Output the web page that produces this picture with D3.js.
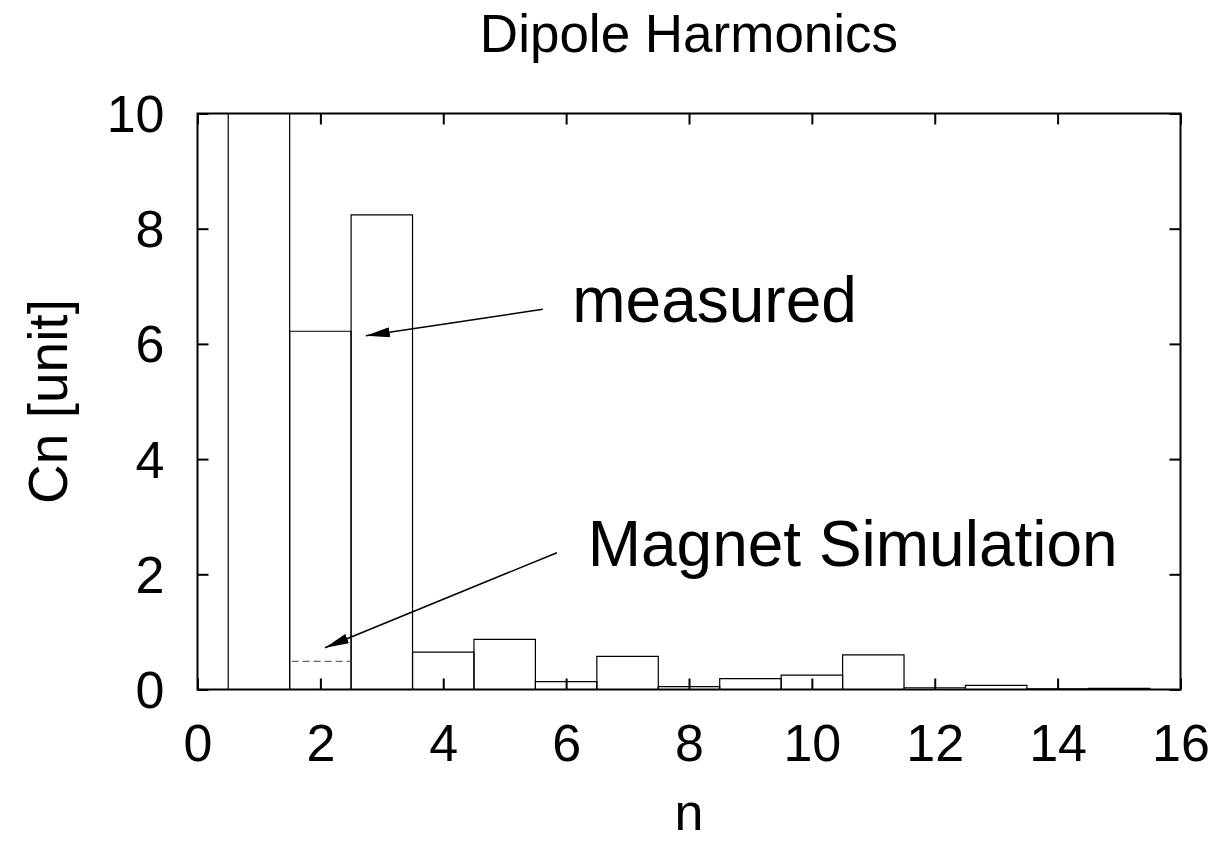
<!DOCTYPE html>
<html>
<head>
<meta charset="utf-8">
<script src="https://cdn.jsdelivr.net/npm/d3@7"></script>
<style>
  html, body { margin: 0; padding: 0; background: #fff; }
  svg { display: block; font-family: "Liberation Sans", Arial, sans-serif; }
</style>
</head>
<body>
<svg id="chart" width="1217" height="843"></svg>
<script>
// ---- data ----
const harmonics = [1, 2, 3, 4, 5, 6, 7, 8, 9, 10, 11, 12, 13, 14, 15];
const measured = [100, 6.22, 8.24, 0.65, 0.87, 0.135, 0.575, 0.05, 0.19, 0.25, 0.60, 0.03, 0.07, 0.01, 0.02];
const simHarmonics = [2];
const simulated = [0.49];
const xTicks = [0, 2, 4, 6, 8, 10, 12, 14, 16];
const yTicks = [0, 2, 4, 6, 8, 10];
const titleText = "Dipole Harmonics";
const xLabel = "n";
const yLabel = "Cn [unit]";
// annotations (data units): label position, arrow start, arrow tip
const annotationTexts = ["measured", "Magnet Simulation"];
const annotationTextPos = [[6.1, 6.38], [6.35, 2.14]];
const annotationArrowFrom = [[5.62, 6.6], [5.85, 2.375]];
const annotationArrowTo = [[2.74, 6.14], [2.075, 0.726]];

// ---- layout ----
const svg = d3.select("#chart");
const L = 197.5, R = 1180.5, T = 113.5, B = 689.5;
const x = d3.scaleLinear().domain([0, 16]).range([L, R]);
const y = d3.scaleLinear().domain([0, 10]).range([B, T]);

const defs = svg.append("defs");
defs.append("clipPath").attr("id", "clip")
  .append("rect").attr("x", L).attr("y", T).attr("width", R - L).attr("height", B - T);
defs.append("marker")
  .attr("id", "arrow").attr("viewBox", "0 0 24 10")
  .attr("refX", 24).attr("refY", 5)
  .attr("markerWidth", 24).attr("markerHeight", 10)
  .attr("markerUnits", "userSpaceOnUse")
  .attr("orient", "auto")
  .append("path").attr("d", "M0,0 L24,5 L0,10 Z").attr("fill", "#000");

// bars (measured)
const gBars = svg.append("g").attr("clip-path", "url(#clip)");
gBars.selectAll("path.bar").data(harmonics).enter().append("path")
  .attr("class", "bar")
  .attr("d", (n, i) => {
    const x0 = x(n - 0.5), x1 = x(n + 0.5), y0 = y(0), y1 = y(measured[i]);
    return `M${x0},${y0} L${x0},${y1} L${x1},${y1} L${x1},${y0}`;
  })
  .attr("fill", "none").attr("stroke", "#000").attr("stroke-width", 1.2);

// simulation (dashed)
gBars.selectAll("line.sim").data(simHarmonics).enter().append("line")
  .attr("class", "sim")
  .attr("x1", n => x(n - 0.5) + 2).attr("x2", n => x(n + 0.5))
  .attr("y1", (n, i) => y(simulated[i])).attr("y2", (n, i) => y(simulated[i]))
  .attr("stroke", "#666").attr("stroke-width", 1.3).attr("stroke-dasharray", "7,4");

// axes (ticks inward, mirrored)
const tickLen = 11;
const axB = svg.append("g").attr("transform", `translate(0,${B})`)
  .call(d3.axisBottom(x).tickValues(xTicks).tickSize(-tickLen).tickFormat(d3.format("d")));
const axT = svg.append("g").attr("transform", `translate(0,${T})`)
  .call(d3.axisTop(x).tickValues(xTicks).tickSize(-tickLen).tickFormat(""));
const axL = svg.append("g").attr("transform", `translate(${L},0)`)
  .call(d3.axisLeft(y).tickValues(yTicks).tickSize(-tickLen).tickPadding(tickLen + 22).tickFormat(d3.format("d")));
const axR = svg.append("g").attr("transform", `translate(${R},0)`)
  .call(d3.axisRight(y).tickValues(yTicks).tickSize(-tickLen).tickFormat(""));
[axB, axT, axL, axR].forEach(a => {
  a.select(".domain").remove();
  a.selectAll(".tick line").attr("stroke", "#000").attr("stroke-width", 2);
  a.selectAll(".tick text").attr("font-size", 52).attr("fill", "#000")
    .attr("font-family", "'Liberation Sans', Arial, sans-serif");
});
axB.selectAll(".tick text").attr("dy", null).attr("y", 53).attr("dominant-baseline", "central");
axL.selectAll(".tick text").attr("dy", null).attr("dominant-baseline", "central");

// frame
svg.append("rect").attr("x", L).attr("y", T).attr("width", R - L).attr("height", B - T)
  .attr("fill", "none").attr("stroke", "#000").attr("stroke-width", 2);

// title & labels
svg.append("text").attr("x", (L + R) / 2).attr("y", 52).attr("text-anchor", "middle")
  .attr("font-size", 53).text(titleText);
svg.append("text").attr("x", (L + R) / 2).attr("y", 830).attr("text-anchor", "middle")
  .attr("font-size", 52).text(xLabel);
svg.append("text").attr("transform", `translate(67,${(T + B) / 2}) rotate(-90)`)
  .attr("text-anchor", "middle").attr("font-size", 55).text(yLabel);

// annotations
annotationTexts.forEach((t, i) => {
  svg.append("text").attr("x", x(annotationTextPos[i][0])).attr("y", y(annotationTextPos[i][1]))
    .attr("font-size", 64).text(t);
  svg.append("line")
    .attr("x1", x(annotationArrowFrom[i][0])).attr("y1", y(annotationArrowFrom[i][1]))
    .attr("x2", x(annotationArrowTo[i][0])).attr("y2", y(annotationArrowTo[i][1]))
    .attr("stroke", "#000").attr("stroke-width", 1.5).attr("marker-end", "url(#arrow)");
});
</script>
</body>
</html>
